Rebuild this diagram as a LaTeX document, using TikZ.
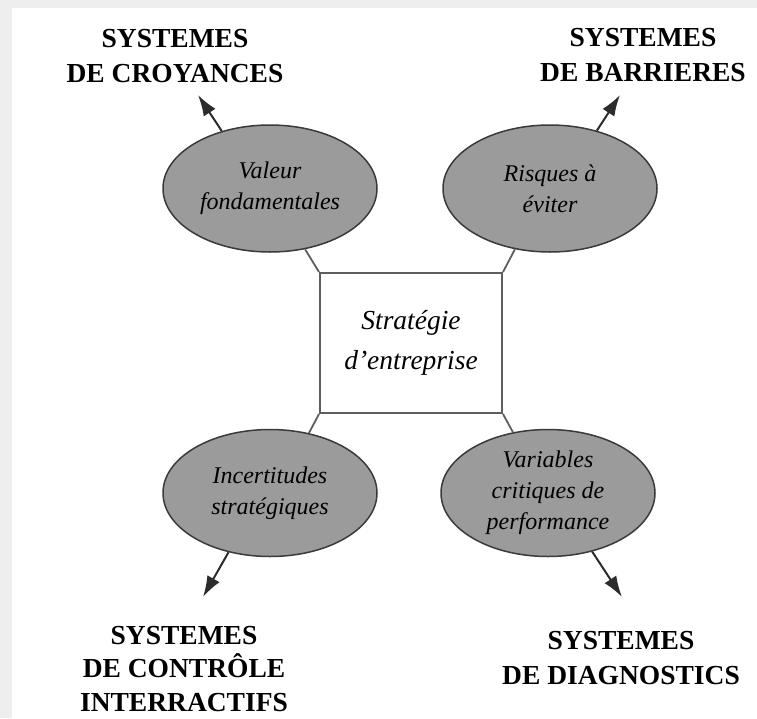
\documentclass[tikz,border=0pt]{standalone}
\usepackage{fontspec}
\setmainfont{Liberation Serif}
\usetikzlibrary{arrows.meta,shapes.geometric}

\definecolor{ovalfill}{HTML}{9B9B9B}
\definecolor{ovalline}{HTML}{3A3A3A}
\definecolor{boxline}{HTML}{5E5E5E}
\definecolor{arrowcol}{HTML}{2C2C2C}
\definecolor{framegray}{HTML}{EEEEEE}

\tikzset{
  oval/.style={ellipse, draw=ovalline, fill=ovalfill, line width=1.5pt,
    minimum width=214pt, minimum height=127pt, inner sep=0pt, align=center,
    font=\fontsize{24}{31}\selectfont\itshape},
  stratbox/.style={rectangle, draw=boxline, fill=white, line width=2pt,
    minimum width=182pt, minimum height=140pt, inner sep=0pt, align=center,
    font=\fontsize{27.5}{40}\selectfont\itshape},
  link/.style={draw=boxline, line width=1.8pt},
  outarrow/.style={draw=arrowcol, line width=2pt,
    -{Latex[length=21pt,width=14pt]}},
  title/.style={anchor=base, inner sep=0pt,
    font=\fontsize{27.5}{35}\selectfont\bfseries}
}

\begin{document}
\begin{tikzpicture}[x=1pt,y=-1pt]
  % page and its thin grey frame
  \fill[framegray] (0,0) rectangle (757,718);
  \fill[white] (12,8) rectangle (757,718);
  \useasboundingbox (0,0) rectangle (757,718);

  % centre box and the four ovals
  \node[stratbox] (strat) at (411,343) {Stratégie\\d’entreprise};
  \node[oval] (tl) at (270,188.5) {Valeur\\fondamentales};
  \node[oval] (tr) at (550,188.5) {Risques à\\éviter};
  \node[oval] (bl) at (270,493) {Incertitudes\\stratégiques};
  \node[oval] (br) at (548,493) {Variables\\critiques de\\performance};

  % short links from the box corners to the ovals
  \draw[link] (strat.north west) -- (tl.-60);
  \draw[link] (strat.north east) -- (tr.-120);
  \draw[link] (strat.south west) -- (bl.57);
  \draw[link] (strat.south east) -- (br.120);

  % arrows pointing out to the four systems
  \coordinate (tlend) at (198,95);
  \coordinate (trend) at (620,95);
  \coordinate (blend) at (203,597);
  \coordinate (brend) at (622,597);
  \draw[outarrow] (tl.130) -- (tlend);
  \draw[outarrow] (tr.51) -- (trend);
  \draw[outarrow] (bl.-125) -- (blend);
  \draw[outarrow] (br.-53) -- (brend);

  % system titles
  \node[title] (ttl) at (175,47)
    {\begin{tabular}[t]{@{}c@{}}SYSTEMES\\DE CROYANCES\end{tabular}};
  \node[title] (ttr) at (643,46)
    {\begin{tabular}[t]{@{}c@{}}SYSTEMES\\DE BARRIERES\end{tabular}};
  \node[title, font=\fontsize{27.5}{33.5}\selectfont\bfseries] (tbl) at (184,644)
    {\begin{tabular}[t]{@{}c@{}}SYSTEMES\\DE CONTRÔLE\\INTERRACTIFS\end{tabular}};
  \node[title] (tbr) at (621,649)
    {\begin{tabular}[t]{@{}c@{}}SYSTEMES\\DE DIAGNOSTICS\end{tabular}};
\end{tikzpicture}
\end{document}
